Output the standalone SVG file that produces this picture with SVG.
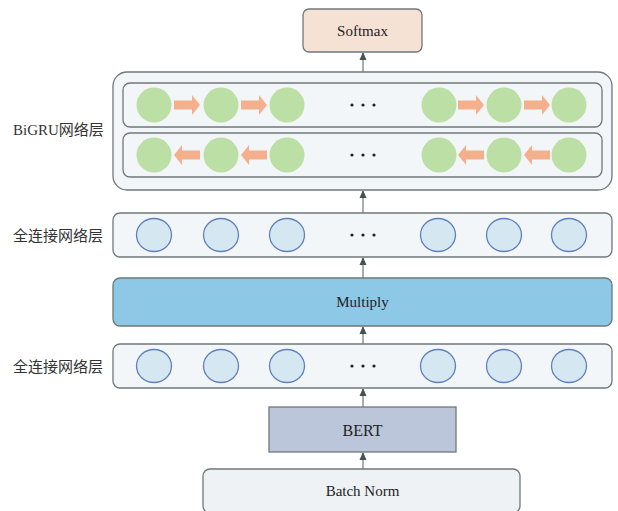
<svg xmlns="http://www.w3.org/2000/svg" width="618" height="511" viewBox="0 0 618 511">
<defs>
<style>
.box{stroke:#6f7878;stroke-width:1.3}
.panel{fill:#f3f6f8}
.t{font-family:"Liberation Serif","Times New Roman",serif;font-size:15px;fill:#222;text-anchor:middle;dominant-baseline:central}
.lab{font-family:"Liberation Serif","Noto Sans CJK SC",serif;font-size:15px;fill:#333}
.g{fill:#bcdfa6}
.b{fill:#d5e7f0;stroke:#5f80bd;stroke-width:1.3}
.oa{fill:#f4b08c}
.dot{fill:#222}
.conn{stroke:#6f7878;stroke-width:1.2;fill:none;marker-end:url(#ah)}
</style>
<marker id="ah" viewBox="0 0 8 8" refX="7" refY="4" markerWidth="8" markerHeight="8" markerUnits="userSpaceOnUse" orient="auto">
<path d="M0,0.5 L8,4 L0,7.5 Z" fill="#46524f"/>
</marker>
<path id="ar" d="M-13,-4.5 H5 V-10 L13,0 L5,10 V4.5 H-13 Z"/>
<g id="dots"><circle cx="-11" cy="0" r="1.6"/><circle cx="0" cy="0" r="1.6"/><circle cx="11" cy="0" r="1.6"/></g>
</defs>
<rect width="618" height="511" fill="#ffffff"/>

<g id="connectors">
<line class="conn" x1="363" y1="72" x2="363" y2="53"/>
<line class="conn" x1="363" y1="213" x2="363" y2="191"/>
<line class="conn" x1="363" y1="278" x2="363" y2="258"/>
<line class="conn" x1="363" y1="344" x2="363" y2="327"/>
<line class="conn" x1="363" y1="407" x2="363" y2="389"/>
<line class="conn" x1="363" y1="469" x2="363" y2="453"/>
</g>

<g id="softmax">
<rect class="box" x="303" y="9" width="119" height="43" rx="6" fill="#f6e1d5"/>
<text class="t" x="362.5" y="31">Softmax</text>
</g>

<g id="bigru">
<text class="lab" x="13" y="135">BiGRU网络层</text>
<rect class="box panel" x="113" y="72" width="499" height="118" rx="14"/>
<rect class="box panel" x="123" y="83" width="479" height="44" rx="7"/>
<rect class="box panel" x="123" y="133" width="479" height="44" rx="7"/>
<g class="g">
<circle cx="154" cy="105" r="17.5"/><circle cx="221" cy="105" r="17.5"/><circle cx="287" cy="105" r="17.5"/>
<circle cx="439" cy="105" r="17.5"/><circle cx="504" cy="105" r="17.5"/><circle cx="569" cy="105" r="17.5"/>
<circle cx="154" cy="155" r="17.5"/><circle cx="221" cy="155" r="17.5"/><circle cx="287" cy="155" r="17.5"/>
<circle cx="439" cy="155" r="17.5"/><circle cx="504" cy="155" r="17.5"/><circle cx="569" cy="155" r="17.5"/>
</g>
<g class="oa">
<use href="#ar" x="187" y="105"/><use href="#ar" x="254" y="105"/>
<use href="#ar" x="471" y="105"/><use href="#ar" x="537" y="105"/>
<use href="#ar" transform="translate(187,155) scale(-1,1)"/><use href="#ar" transform="translate(254,155) scale(-1,1)"/>
<use href="#ar" transform="translate(471,155) scale(-1,1)"/><use href="#ar" transform="translate(537,155) scale(-1,1)"/>
</g>
<g class="dot"><use href="#dots" x="363" y="105"/><use href="#dots" x="363" y="155"/></g>
</g>

<g id="fc1">
<text class="lab" x="13" y="241">全连接网络层</text>
<rect class="box panel" x="113" y="213" width="499" height="44" rx="7"/>
<g class="b">
<ellipse cx="154" cy="235" rx="17.5" ry="16.5"/><ellipse cx="221" cy="235" rx="17.5" ry="16.5"/><ellipse cx="287" cy="235" rx="17.5" ry="16.5"/>
<ellipse cx="438" cy="235" rx="17.5" ry="16.5"/><ellipse cx="504" cy="235" rx="17.5" ry="16.5"/><ellipse cx="569" cy="235" rx="17.5" ry="16.5"/>
</g>
<g class="dot"><use href="#dots" x="363" y="235"/></g>
</g>

<g id="multiply">
<rect class="box" x="113" y="278" width="499" height="48" rx="7" fill="#8ec8e7"/>
<text class="t" x="362.5" y="302">Multiply</text>
</g>

<g id="fc2">
<text class="lab" x="13" y="372">全连接网络层</text>
<rect class="box panel" x="113" y="344" width="499" height="44" rx="7"/>
<g class="b">
<ellipse cx="154" cy="366" rx="17.5" ry="16.5"/><ellipse cx="221" cy="366" rx="17.5" ry="16.5"/><ellipse cx="287" cy="366" rx="17.5" ry="16.5"/>
<ellipse cx="438" cy="366" rx="17.5" ry="16.5"/><ellipse cx="504" cy="366" rx="17.5" ry="16.5"/><ellipse cx="569" cy="366" rx="17.5" ry="16.5"/>
</g>
<g class="dot"><use href="#dots" x="363" y="366"/></g>
</g>

<g id="bert">
<rect class="box" x="269" y="407" width="187" height="45" fill="#bbc6da"/>
<text class="t" x="362.5" y="430" style="font-size:16px">BERT</text>
</g>

<g id="batchnorm">
<rect class="box" x="203" y="469" width="317" height="44" rx="7" fill="#eef2f4"/>
<text class="t" x="362.5" y="491">Batch Norm</text>
</g>
</svg>
